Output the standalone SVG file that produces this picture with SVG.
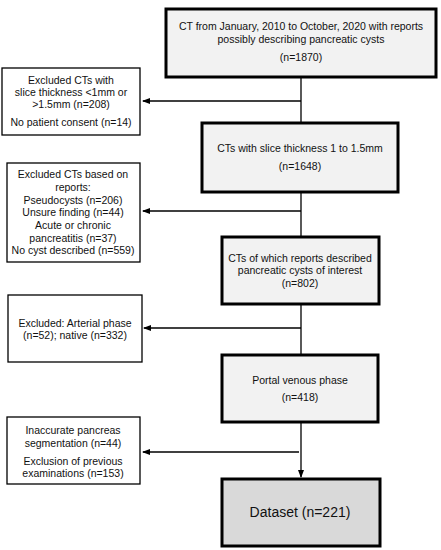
<svg xmlns="http://www.w3.org/2000/svg" width="441" height="550" viewBox="0 0 441 550">
<style>
.main{fill:#f2f2f2;stroke:#000;stroke-width:3}
.final{fill:#d9d9d9;stroke:#000;stroke-width:3}
.side{fill:#fff;stroke:#000;stroke-width:1.3}
text{font-family:"Liberation Sans",Arial,sans-serif;font-size:10.5px;fill:#111;text-anchor:middle}
.big{font-size:14px}
.ln{stroke:#000;stroke-width:1.3;fill:none}
</style>
<defs>
<marker id="ah" markerWidth="8" markerHeight="6" refX="7" refY="3" orient="auto" markerUnits="userSpaceOnUse">
<path d="M0,0 L8,3 L0,6 Z" fill="#000"/>
</marker>
</defs>
<rect width="441" height="550" fill="#fff"/>
<g id="connectors">
<line class="ln" x1="301" y1="77" x2="301" y2="123"/>
<line class="ln" x1="301" y1="101" x2="143" y2="101" marker-end="url(#ah)"/>
<line class="ln" x1="301" y1="192" x2="301" y2="237"/>
<line class="ln" x1="301" y1="211" x2="143" y2="211" marker-end="url(#ah)"/>
<line class="ln" x1="301" y1="304" x2="301" y2="355"/>
<line class="ln" x1="301" y1="328" x2="144" y2="328" marker-end="url(#ah)"/>
<line class="ln" x1="301" y1="422" x2="301" y2="477" marker-end="url(#ah)"/>
<line class="ln" x1="299" y1="452" x2="143" y2="452" marker-end="url(#ah)"/>
</g>
<g id="n1">
<rect class="main" x="166" y="9" width="270" height="68"/>
<text x="301" y="30">CT from January, 2010 to October, 2020 with reports</text>
<text x="301" y="43">possibly describing pancreatic cysts</text>
<text x="301" y="61">(n=1870)</text>
</g>
<g id="e1">
<rect class="side" x="2" y="68" width="138" height="67"/>
<text x="71" y="84">Excluded CTs with</text>
<text x="71" y="96">slice thickness &lt;1mm or</text>
<text x="71" y="108">&gt;1.5mm (n=208)</text>
<text x="71" y="126">No patient consent (n=14)</text>
</g>
<g id="n2">
<rect class="main" x="202" y="123" width="196" height="69"/>
<text x="300" y="152">CTs with slice thickness 1 to 1.5mm</text>
<text x="300" y="170">(n=1648)</text>
</g>
<g id="e2">
<rect class="side" x="7" y="163" width="133" height="99"/>
<text x="73" y="178">Excluded CTs based on</text>
<text x="73" y="191">reports:</text>
<text x="73" y="204">Pseudocysts (n=206)</text>
<text x="73" y="216">Unsure finding (n=44)</text>
<text x="73" y="229">Acute or chronic</text>
<text x="73" y="242">pancreatitis (n=37)</text>
<text x="73" y="254">No cyst described (n=559)</text>
</g>
<g id="n3">
<rect class="main" x="222" y="237" width="157" height="67"/>
<text x="300" y="262">CTs of which reports described</text>
<text x="300" y="274">pancreatic cysts of interest</text>
<text x="300" y="287">(n=802)</text>
</g>
<g id="e3">
<rect class="side" x="8" y="295" width="134" height="67"/>
<text x="75" y="327">Excluded: Arterial phase</text>
<text x="75" y="339">(n=52); native (n=332)</text>
</g>
<g id="n4">
<rect class="main" x="222" y="355" width="156" height="67"/>
<text x="300" y="384">Portal venous phase</text>
<text x="300" y="401">(n=418)</text>
</g>
<g id="e4">
<rect class="side" x="7" y="417" width="133" height="67"/>
<text x="73" y="434">Inaccurate pancreas</text>
<text x="73" y="447">segmentation (n=44)</text>
<text x="73" y="465">Exclusion of previous</text>
<text x="73" y="477">examinations (n=153)</text>
</g>
<g id="n5">
<rect class="final" x="222" y="479" width="158" height="67"/>
<text class="big" x="300" y="517">Dataset (n=221)</text>
</g>
</svg>
